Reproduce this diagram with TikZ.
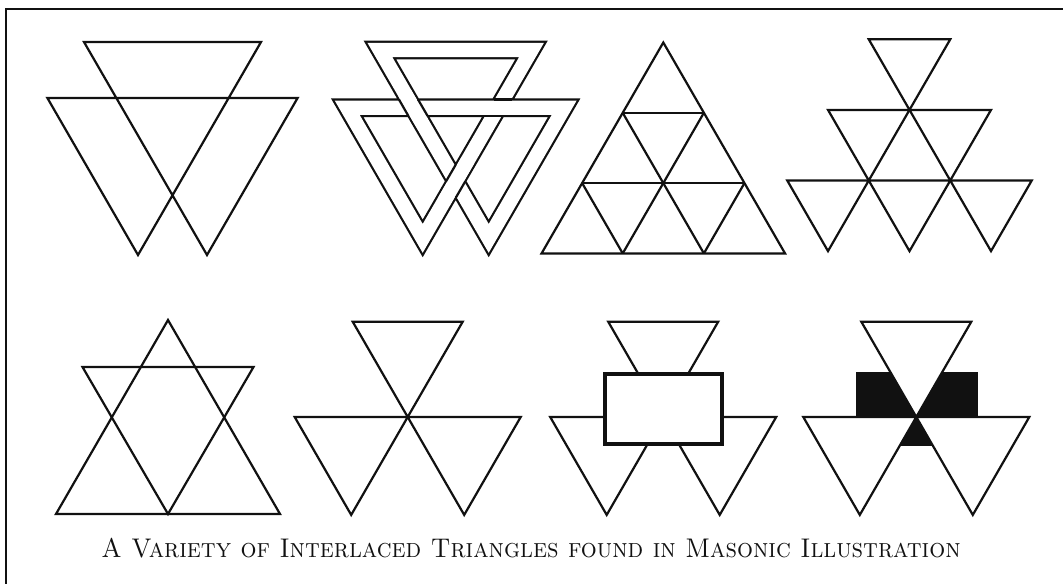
\documentclass[tikz,border=0pt]{standalone}
\usetikzlibrary{calc}
\definecolor{Ink}{HTML}{111111}
\tikzset{
 tri/.style={draw=Ink,line width=2.2pt,line join=miter},
 solid tri/.style={tri,fill=white},
 band/.style={draw=Ink,line width=2.2pt,double=white,double distance=14.4pt,line join=miter},
 core/.style={draw=white,line width=14pt},
 rim/.style={draw=Ink,line width=2.2pt},
 frame/.style={draw=Ink,line width=2pt,line join=miter},
 panel/.style={fill=Ink,draw=none},
 caption/.style={font=\fontsize{27}{32}\selectfont,text=Ink,anchor=base,inner sep=0pt}
}
\begin{document}
\begin{tikzpicture}[x=1pt,y=-1pt]
\useasboundingbox (0,0) rectangle (1063,584);
\draw[frame] (1063,9) -- (6,9) -- (6,584);

% two triangles in one line
\draw[tri] (84,42)--(261,42)--(138,255)--(47.4,98)--(297.6,98)--(207,255)--cycle;

% the same as a woven band
\coordinate (p1) at (379.9,50);
\coordinate (p2) at (531.5,50);
\coordinate (p3) at (422.7,238.4);
\coordinate (p4) at (347.2,107.7);
\coordinate (p5) at (564.2,107.7);
\coordinate (p6) at (488.7,238.4);
\draw[band] (p1)--(p2)--(p3)--(p4)--(p5)--(p6)--cycle;
% over-crossings: clear the strand below, then close the edges of the one on top
\foreach \a/\b/\lo/\hi in {p6/p1/0.614/0.773,p4/p5/0.612/0.778,p2/p3/0.585/0.805}
  \draw[core] ($(\a)!\lo!(\b)$) -- ($(\a)!\hi!(\b)$);
\foreach \xa/\ya/\xb/\yb in {418.1/99.6/427.5/115.8,399.0/99.6/408.3/115.8,493.7/99.4/512.3/99.4,484.1/116/502.7/116,465.2/181.5/455.8/197.7,455.6/164.9/446.2/181.1}
  \draw[rim] (\xa,\ya) -- (\xb,\yb);

% nine in one
\foreach \k in {0,...,3}
  \foreach \j in {0,...,\k}
    \coordinate (n\k\j) at ({663.3+(2*\j-\k)*40.58},{42.5+70.3*\k});
\draw[tri] (n00)--(n30)--(n33)--cycle;
\foreach \x/\y in {n10/n11,n20/n22,n11/n31,n22/n32,n10/n32,n20/n31} \draw[tri] (\x)--(\y);

% six pointing down
\foreach \k in {0,1,2}
  \foreach \j in {0,...,\k}
    \draw[tri] ({909.5-(\k+1)*40.75+\j*81.5},{39.3+70.6*\k}) -- ++(81.5,0) -- ++(-40.75,70.6) -- cycle;

% star
\draw[tri] (168,320)--(280,514)--(56,514)--cycle;
\draw[tri] (82.5,367)--(253.5,367)--(168,514)--cycle;

% three about a point
\fill[panel] (855.7,371.7) rectangle (978.3,445.7);
\foreach \cx in {407.7,663.2,916.3}{
  \draw[solid tri] ({\cx-55},321.7) -- ({\cx+55},321.7) -- (\cx,417) -- cycle;
  \draw[solid tri] ({\cx-113},417) -- (\cx,417) -- ({\cx-56.5},514.9) -- cycle;
  \draw[solid tri] (\cx,417) -- ({\cx+113},417) -- ({\cx+56.5},514.9) -- cycle;
}
\draw[Ink,line width=4pt,fill=white] (604.7,373.7) rectangle (722.3,443.7);

\node[caption] (title) at (531,557) {\scalebox{0.93}[1]{\textsc{A Variety of Interlaced Triangles found in Masonic Illustration}}};
\end{tikzpicture}
\end{document}
